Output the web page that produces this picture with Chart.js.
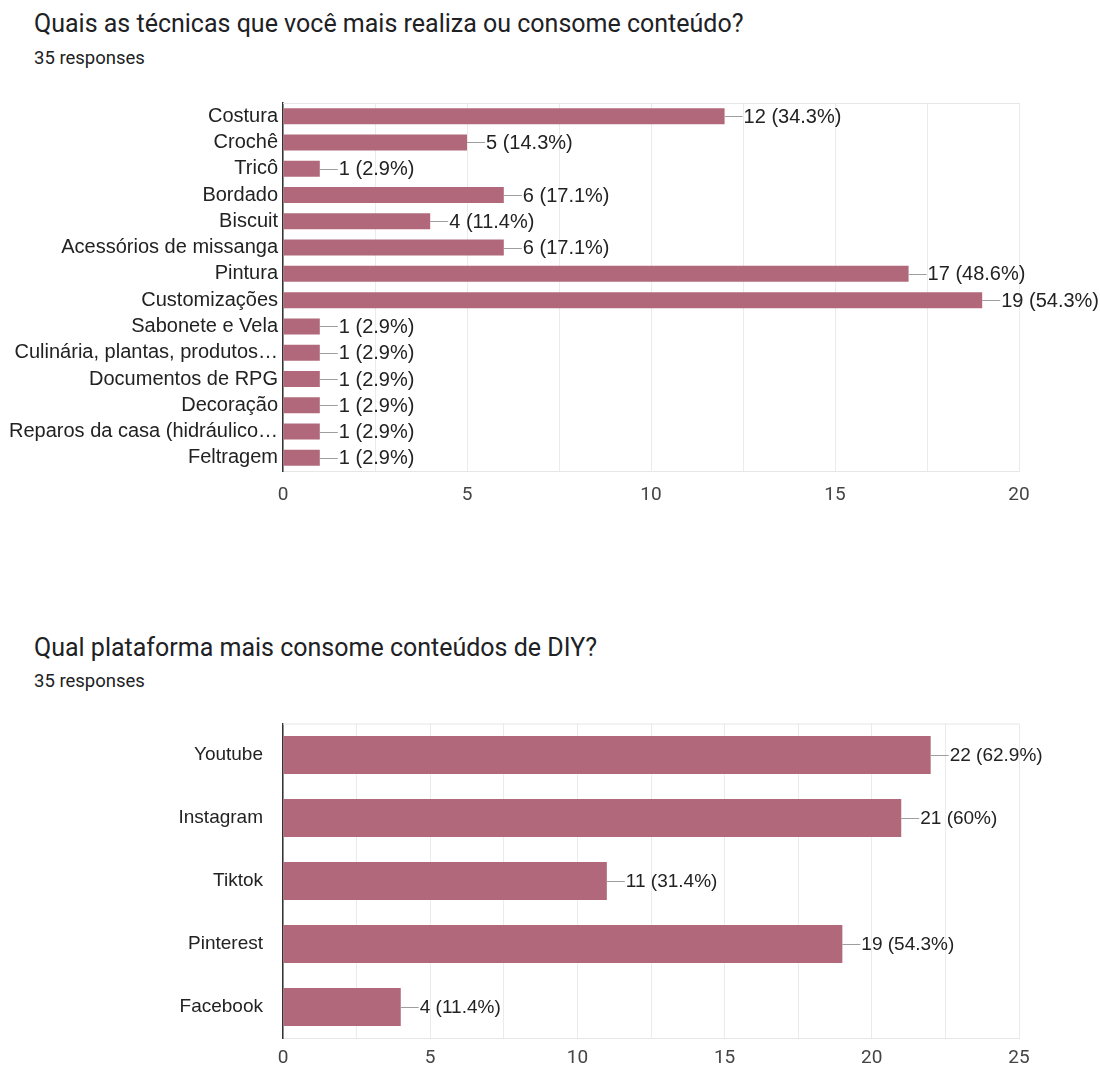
<!DOCTYPE html>
<html>
<head>
<meta charset="utf-8">
<script src="https://cdn.jsdelivr.net/npm/chart.js@4"></script>
<style>
  body { margin: 0; background: #fff; width: 1100px; height: 1066px; position: relative; overflow: hidden; }
  .title { position: absolute; left: 34px; font-family: Roboto, sans-serif; font-size: 25px; color: #202124; white-space: nowrap; }
  .sub { position: absolute; left: 34px; font-family: Roboto, sans-serif; font-size: 18.5px; color: #202124; white-space: nowrap; }
  .box { position: absolute; left: 0; width: 1100px; }
</style>
</head>
<body>
<div class="title" style="top:9px">Quais as técnicas que você mais realiza ou consome conteúdo?</div>
<div class="sub" style="top:47px">35 responses</div>
<div class="box" style="top:90px;height:420px"><canvas id="chart-tecnicas"></canvas></div>

<div class="title" style="top:633px">Qual plataforma mais consome conteúdos de DIY?</div>
<div class="sub" style="top:670px">35 responses</div>
<div class="box" style="top:710px;height:356px"><canvas id="chart-plataforma"></canvas></div>

<script>
var total = 35;

var tecnicas = ['Costura', 'Crochê', 'Tricô', 'Bordado', 'Biscuit', 'Acessórios de missanga', 'Pintura',
  'Customizações', 'Sabonete e Vela', 'Culinária, plantas, produtos…', 'Documentos de RPG', 'Decoração',
  'Reparos da casa (hidráulico…', 'Feltragem'];
var tecnicas_votos = [12, 5, 1, 6, 4, 6, 17, 19, 1, 1, 1, 1, 1, 1];

var plataformas = ['Youtube', 'Instagram', 'Tiktok', 'Pinterest', 'Facebook'];
var plataformas_votos = [22, 21, 11, 19, 4];

var ticks_tecnicas = [0, 5, 10, 15, 20];
var ticks_plataformas = [0, 5, 10, 15, 20, 25];

var bar_color = '#b0687a';

function pct(v) {
  return Math.round(v / total * 1000) / 10;
}

// connector line + "n (x%)" label after each bar, plus the light top edge of the plot
var barLabels = {
  id: 'barLabels',
  beforeDatasetsDraw: function (chart) {
    const a = chart.chartArea;
    const ctx = chart.ctx;
    ctx.save();
    ctx.strokeStyle = '#e6e6e6';
    ctx.lineWidth = 1;
    ctx.beginPath();
    ctx.moveTo(a.left, a.top + 0.5);
    ctx.lineTo(a.right, a.top + 0.5);
    ctx.stroke();
    ctx.restore();
  },
  afterDatasetsDraw: function (chart, args, opts) {
    const ctx = chart.ctx;
    const meta = chart.getDatasetMeta(0);
    const values = chart.data.datasets[0].data;
    ctx.save();
    meta.data.forEach((bar, i) => {
      ctx.strokeStyle = '#9e9e9e';
      ctx.lineWidth = 1;
      ctx.beginPath();
      ctx.moveTo(bar.x, Math.round(bar.y) + 0.5);
      ctx.lineTo(bar.x + 18, Math.round(bar.y) + 0.5);
      ctx.stroke();
      ctx.fillStyle = '#222';
      ctx.font = opts.size + 'px "Liberation Sans", Arial, sans-serif';
      ctx.textAlign = 'left';
      ctx.textBaseline = 'middle';
      ctx.fillText(values[i] + ' (' + pct(values[i]) + '%)', bar.x + 19, bar.y + 1);
    });
    ctx.restore();
  }
};

function makeChart(el, labels, values, tickList, max, opt) {
  return new Chart(document.getElementById(el), {
    type: 'bar',
    data: {
      labels: labels,
      datasets: [{
        data: values,
        backgroundColor: bar_color,
        borderWidth: 0,
        barPercentage: opt.bar,
        categoryPercentage: 1
      }]
    },
    options: {
      indexAxis: 'y',
      responsive: true,
      maintainAspectRatio: false,
      animation: false,
      layout: { padding: { top: opt.top, right: 81, left: 0, bottom: 0 } },
      plugins: {
        legend: { display: false },
        tooltip: { enabled: false },
        barLabels: { size: opt.labelSize }
      },
      scales: {
        x: {
          min: 0,
          max: max,
          afterBuildTicks: function (scale) {
            var t = [];
            for (var i = 0; i < tickList.length; i++) {
              t.push({ value: tickList[i] });
              if (i < tickList.length - 1) t.push({ value: (tickList[i] + tickList[i + 1]) / 2 });
            }
            scale.ticks = t;
          },
          afterFit: function (scale) { scale.height = opt.xh; },
          grid: { color: '#ebebeb', lineWidth: 1, drawTicks: false },
          border: { color: '#e6e6e6' },
          ticks: {
            autoSkip: false,
            maxRotation: 0,
            padding: opt.tickPad,
            color: '#444',
            font: { family: 'Roboto, sans-serif', size: 19 },
            callback: function (v) { return tickList.indexOf(v) >= 0 ? v : ''; }
          }
        },
        y: {
          afterFit: function (scale) {
            scale.width = 283;
            scale.paddingTop = 0;
            scale.paddingBottom = 0;
          },
          grid: { display: false },
          border: { color: '#333', width: 1.5 },
          ticks: {
            autoSkip: false,
            padding: opt.yPad,
            color: '#222',
            font: { family: '"Liberation Sans", Arial, sans-serif', size: opt.ySize }
          }
        }
      }
    },
    plugins: [barLabels]
  });
}

makeChart('chart-tecnicas', tecnicas, tecnicas_votos, ticks_tecnicas, 20,
  { bar: 0.61, top: 13, xh: 39, tickPad: 13, yPad: -3, ySize: 20, labelSize: 20 });
makeChart('chart-plataforma', plataformas, plataformas_votos, ticks_plataformas, 25,
  { bar: 0.6, top: 13.5, xh: 27.5, tickPad: 8, yPad: 12, ySize: 19, labelSize: 19 });
</script>
</body>
</html>
